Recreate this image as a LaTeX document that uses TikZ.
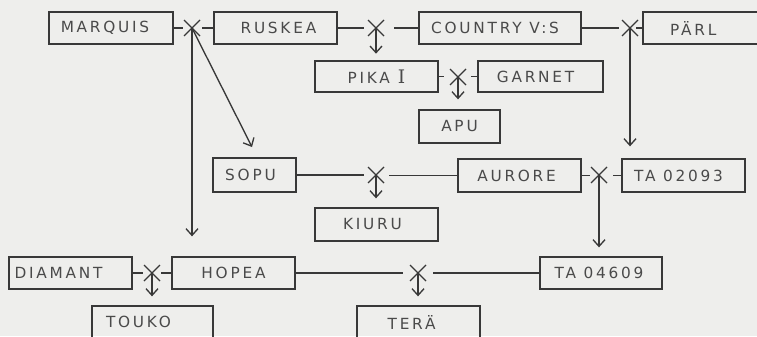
\documentclass[tikz,border=0pt]{standalone}
\usepackage{fontspec}
\usetikzlibrary{fit,arrows.meta}
\newfontfamily\labfont[LetterSpace=18]{DejaVu Sans}
\newfontfamily\numfont{DejaVu Serif}
\definecolor{bg}{HTML}{EEEEEC}
\definecolor{ink}{HTML}{383838}
\definecolor{txt}{HTML}{4A4A4A}
\tikzset{
  box/.style={draw=ink, line width=1pt, inner sep=0pt, rectangle},
  lab/.style={text=txt, font=\labfont\fontsize{11.5}{13}\selectfont, inner sep=0pt},
  conn/.style={draw=ink, line width=1pt},
  arr/.style={conn, -{Straight Barb[length=5pt,width=9pt]}},
}
\newcommand\crossat[1]{\draw[conn] ([shift={(-8,-8)}]#1) -- ([shift={(8,8)}]#1) ([shift={(-8,8)}]#1) -- ([shift={(8,-8)}]#1);}
\begin{document}
\begin{tikzpicture}[x=0.75pt,y=-0.75pt]
\fill[bg] (0,0) rectangle (757,336);
\useasboundingbox (0,0) rectangle (757,336);
\clip (0,0) rectangle (757,336);
% boxes
\node[box, fit={(49,12)(173,44)}, label={[lab,xshift=-4.5pt]center:MARQUIS}] (marq) {};
\node[box, fit={(214,12)(337,44)}, label={[lab,xshift=2.2pt]center:RUSKEA}] (rusk) {};
\node[box, fit={(419,12)(581,44)}, label={[lab,xshift=-3.7pt]center:COUNTRY V:S}] (coun) {};
\node[box, fit={(643,12)(765,44)}, label={[lab,xshift=-8pt]center:PÄRL}] (parl) {};
\node[box, fit={(315,61)(438,92)}, label={[lab]center:PIKA\hspace{6pt}{\numfont\fontsize{14}{14}\selectfont I}}] (pika) {};
\node[box, fit={(478,61)(603,92)}, label={[lab,xshift=-3.7pt]center:GARNET}] (garn) {};
\node[box, fit={(419,110)(500,143)}, label={[lab]center:APU}] (apu) {};
\node[box, fit={(213,158)(296,192)}, label={[lab,xshift=-3pt]center:SOPU}] (sopu) {};
\node[box, fit={(315,208)(438,241)}, label={[lab,xshift=-3pt]center:KIURU}] (kiur) {};
\node[box, fit={(458,159)(581,192)}, label={[lab,xshift=-2.2pt]center:AURORE}] (auro) {};
\node[box, fit={(622,159)(745,192)}, label={[lab,xshift=-3.7pt]center:TA 02093}] (ta93) {};
\node[box, fit={(9,257)(132,289)}, label={[lab,xshift=-9pt]center:DIAMANT}] (diam) {};
\node[box, fit={(172,257)(295,289)}, label={[lab]center:HOPEA}] (hope) {};
\node[box, fit={(540,257)(662,289)}, label={[lab,xshift=-1.5pt]center:TA 04609}] (ta09) {};
\node[box, fit={(92,306)(213,345)}, label={[lab,xshift=-10.5pt,yshift=2.6pt]center:TOUKO}] (touk) {};
\node[box, fit={(357,306)(480,345)}, label={[lab,xshift=-5.2pt,yshift=2.6pt]center:TERÄ}] (tera) {};
% crossing points
\coordinate (c1) at (192,28);
\coordinate (c2) at (376,28);
\coordinate (c3) at (630,28);
\coordinate (c4) at (458,77);
\coordinate (c5) at (376,175);
\coordinate (c6) at (599,175);
\coordinate (c7) at (152,273);
\coordinate (c8) at (418,273);
\coordinate (d1) at (252,147);
\crossat{c1}\crossat{c2}\crossat{c3}\crossat{c4}
\crossat{c5}\crossat{c6}\crossat{c7}\crossat{c8}
% parent lines
\draw[conn] (marq.east) -- ++(9,0);
\draw[conn] (rusk.west) -- ++(-11,0);
\draw[conn] (rusk.east) -- ++(26,0);
\draw[conn] (coun.west) -- ++(-24,0);
\draw[conn] (coun.east) -- ++(37,0);
\draw[conn] (parl.west) -- ++(-6,0);
\draw[conn] (pika.east) -- ++(5,0);
\draw[conn] (garn.west) -- ++(-6,0);
\draw[conn] (sopu.east) -- ++(67,0);
\draw[conn] (auro.west) -- ++(-68,0);
\draw[conn] (auro.east) -- ++(8,0);
\draw[conn] (ta93.west) -- ++(-8,0);
\draw[conn] (diam.east) -- ++(10,0);
\draw[conn] (hope.west) -- ++(-10,0);
\draw[conn] (hope.east) -- ++(107,0);
\draw[conn] (ta09.west) -- ++(-106,0);
% offspring arrows
\draw[arr, shorten >=15pt] (c1) -- (c1 |- hope.north);
\draw[arr] (c1) -- (d1);
\draw[arr, shorten >=5pt] (c2) -- (c2 |- pika.north);
\draw[arr, shorten >=9pt] (c3) -- (c3 |- ta93.north);
\draw[arr, shorten >=7.5pt] (c4) -- (c4 |- apu.north);
\draw[arr, shorten >=6.75pt] (c5) -- (c5 |- kiur.north);
\draw[arr, shorten >=6.75pt] (c6) -- (c6 |- ta09.north);
\draw[arr, shorten >=6.75pt] (c7) -- (c7 |- touk.north);
\draw[arr, shorten >=6.75pt] (c8) -- (c8 |- tera.north);
\end{tikzpicture}
\end{document}
